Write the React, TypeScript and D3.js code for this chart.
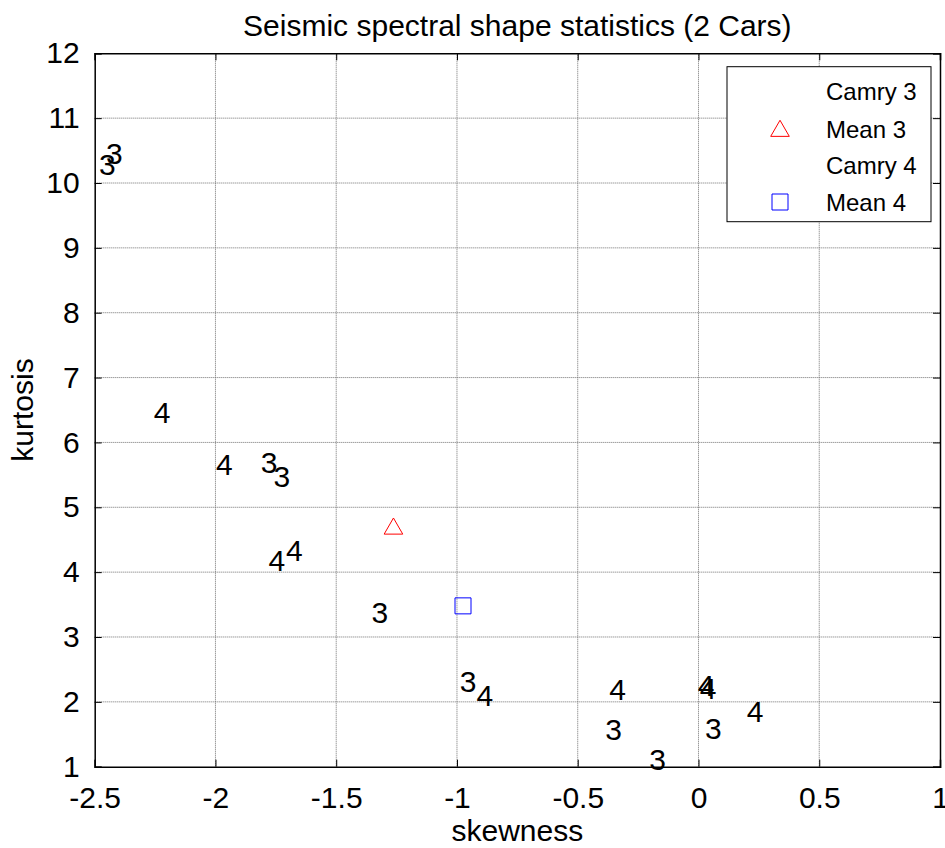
import React, { useEffect, useRef } from 'react';
import * as d3 from 'd3';

// skewness / kurtosis of each trial, drawn as the car number
const camry3Skew = [-2.453, -2.482, -1.812, -1.76, -1.354, -0.988, -0.386, -0.204, 0.027];
const camry3Kurt = [10.455, 10.29, 5.7, 5.48, 3.38, 2.315, 1.57, 1.11, 1.59];
const camry4Skew = [-2.255, -1.998, -1.78, -1.708, -0.919, -0.369, -0.003, 0.005, 0.2];
const camry4Kurt = [6.46, 5.67, 4.18, 4.34, 2.094, 2.19, 2.25, 2.21, 1.86];

const mean3 = [-1.263, 4.7];
const mean4 = [-0.975, 3.48];

const xTicks = [-2.5, -2, -1.5, -1, -0.5, 0, 0.5, 1];
const yTicks = [1, 2, 3, 4, 5, 6, 7, 8, 9, 10, 11, 12];
const legendLabels = ['Camry 3', 'Mean 3', 'Camry 4', 'Mean 4'];

const W = 945;
const H = 848;
const FONT = 'Arial, "Liberation Sans", Helvetica, sans-serif';
const FS = '30px';

const fmt = (d: d3.NumberValue) => String(+d);

const App: React.FC = () => {
  const svgRef = useRef<SVGSVGElement>(null);

  useEffect(() => {
    if (!svgRef.current) return;
    const svg = d3.select(svgRef.current);
    svg.selectAll('*').remove();

    const margin = { top: 53.3, right: 5, bottom: 81.3, left: 94.7 };
    const innerW = W - margin.left - margin.right;
    const innerH = H - margin.top - margin.bottom;

    const x = d3.scaleLinear().domain([-2.5, 1]).range([0, innerW]);
    const y = d3.scaleLinear().domain([1, 12]).range([innerH, 0]);

    svg.append('rect').attr('width', W).attr('height', H).attr('fill', 'white');

    const g = svg.append('g').attr('transform', `translate(${margin.left},${margin.top})`);

    // grid
    g.append('g')
      .selectAll('line')
      .data(xTicks.slice(1, -1))
      .join('line')
      .attr('x1', d => x(d)).attr('x2', d => x(d))
      .attr('y1', 0).attr('y2', innerH)
      .attr('stroke', '#707070').attr('stroke-width', 1).attr('stroke-dasharray', '1 1');
    g.append('g')
      .selectAll('line')
      .data(yTicks.slice(1, -1))
      .join('line')
      .attr('x1', 0).attr('x2', innerW)
      .attr('y1', d => y(d)).attr('y2', d => y(d))
      .attr('stroke', '#707070').attr('stroke-width', 1).attr('stroke-dasharray', '1 1');

    const tl = 7;
    // axes: ticks pointing inward on all four sides
    const xb = d3.axisBottom(x).tickValues(xTicks).tickSize(-tl).tickPadding(tl + 13).tickFormat(fmt);
    const xt = d3.axisTop(x).tickValues(xTicks).tickSize(-tl).tickFormat(() => '');
    const yl = d3.axisLeft(y).tickValues(yTicks).tickSize(-tl).tickPadding(tl + 8).tickFormat(fmt);
    const yr = d3.axisRight(y).tickValues(yTicks).tickSize(-tl).tickFormat(() => '');

    const styleAxis = (sel: d3.Selection<SVGGElement, unknown, null, undefined>) => {
      sel.select('.domain').attr('stroke', '#000').attr('stroke-width', 1.5);
      sel.selectAll('.tick line').attr('stroke', '#000');
      sel.selectAll('.tick text')
        .attr('fill', '#000')
        .style('font-family', FONT)
        .style('font-size', FS);
    };

    g.append('g').attr('transform', `translate(0,${innerH})`).call(xb).call(styleAxis);
    g.append('g').call(xt).call(styleAxis);
    g.append('g').call(yl).call(styleAxis);
    g.append('g').attr('transform', `translate(${innerW},0)`).call(yr).call(styleAxis);

    // text markers
    const addLabels = (xs: number[], ys: number[], label: string) => {
      g.append('g')
        .selectAll('text')
        .data(xs.map((v, i) => [v, ys[i]]))
        .join('text')
        .attr('x', d => x(d[0]))
        .attr('y', d => y(d[1]))
        .attr('dy', '0.358em')
        .attr('fill', '#000')
        .style('font-family', FONT)
        .style('font-size', FS)
        .text(label);
    };
    addLabels(camry3Skew, camry3Kurt, '3');
    addLabels(camry4Skew, camry4Kurt, '4');

    const tri = d3.symbol().type(d3.symbolTriangle).size(150);
    const sq = d3.symbol().type(d3.symbolSquare).size(256);

    g.append('path')
      .attr('d', tri())
      .attr('transform', `translate(${x(mean3[0])},${y(mean3[1]) + 2})`)
      .attr('fill', 'none').attr('stroke', '#ff0000').attr('stroke-width', 1);
    g.append('path')
      .attr('d', sq())
      .attr('transform', `translate(${x(mean4[0])},${y(mean4[1])})`)
      .attr('fill', 'none').attr('stroke', '#0000ff').attr('stroke-width', 1);

    // legend
    const leg = svg.append('g');
    leg.append('rect')
      .attr('x', 727).attr('y', 66.7).attr('width', 204).attr('height', 155)
      .attr('fill', 'white').attr('stroke', '#000').attr('stroke-width', 1);
    const rowY = [91, 129, 165, 202];
    leg.selectAll('text.lbl')
      .data(legendLabels)
      .join('text')
      .attr('class', 'lbl')
      .attr('x', 826)
      .attr('y', (_, i) => rowY[i])
      .attr('dy', '0.358em')
      .attr('fill', '#000')
      .style('font-family', FONT)
      .style('font-size', '24px')
      .text(d => d);
    leg.append('path')
      .attr('d', tri())
      .attr('transform', `translate(780,${rowY[1] + 2})`)
      .attr('fill', 'none').attr('stroke', '#ff0000').attr('stroke-width', 1);
    leg.append('path')
      .attr('d', sq())
      .attr('transform', `translate(780,${rowY[3]})`)
      .attr('fill', 'none').attr('stroke', '#0000ff').attr('stroke-width', 1);

    // titles
    svg.append('text')
      .attr('x', margin.left + innerW / 2).attr('y', 36)
      .attr('text-anchor', 'middle')
      .style('font-family', FONT).style('font-size', FS)
      .text('Seismic spectral shape statistics (2 Cars)');
    svg.append('text')
      .attr('x', margin.left + innerW / 2).attr('y', 841)
      .attr('text-anchor', 'middle')
      .style('font-family', FONT).style('font-size', FS)
      .text('skewness');
    svg.append('text')
      .attr('transform', `translate(33,${margin.top + innerH / 2}) rotate(-90)`)
      .attr('text-anchor', 'middle')
      .style('font-family', FONT).style('font-size', FS)
      .text('kurtosis');
  }, []);

  return (
    <div style={{ position: 'absolute', left: 0, top: 0 }}>
      <svg ref={svgRef} width={W} height={H} style={{ display: 'block' }}></svg>
    </div>
  );
};

export default App;
